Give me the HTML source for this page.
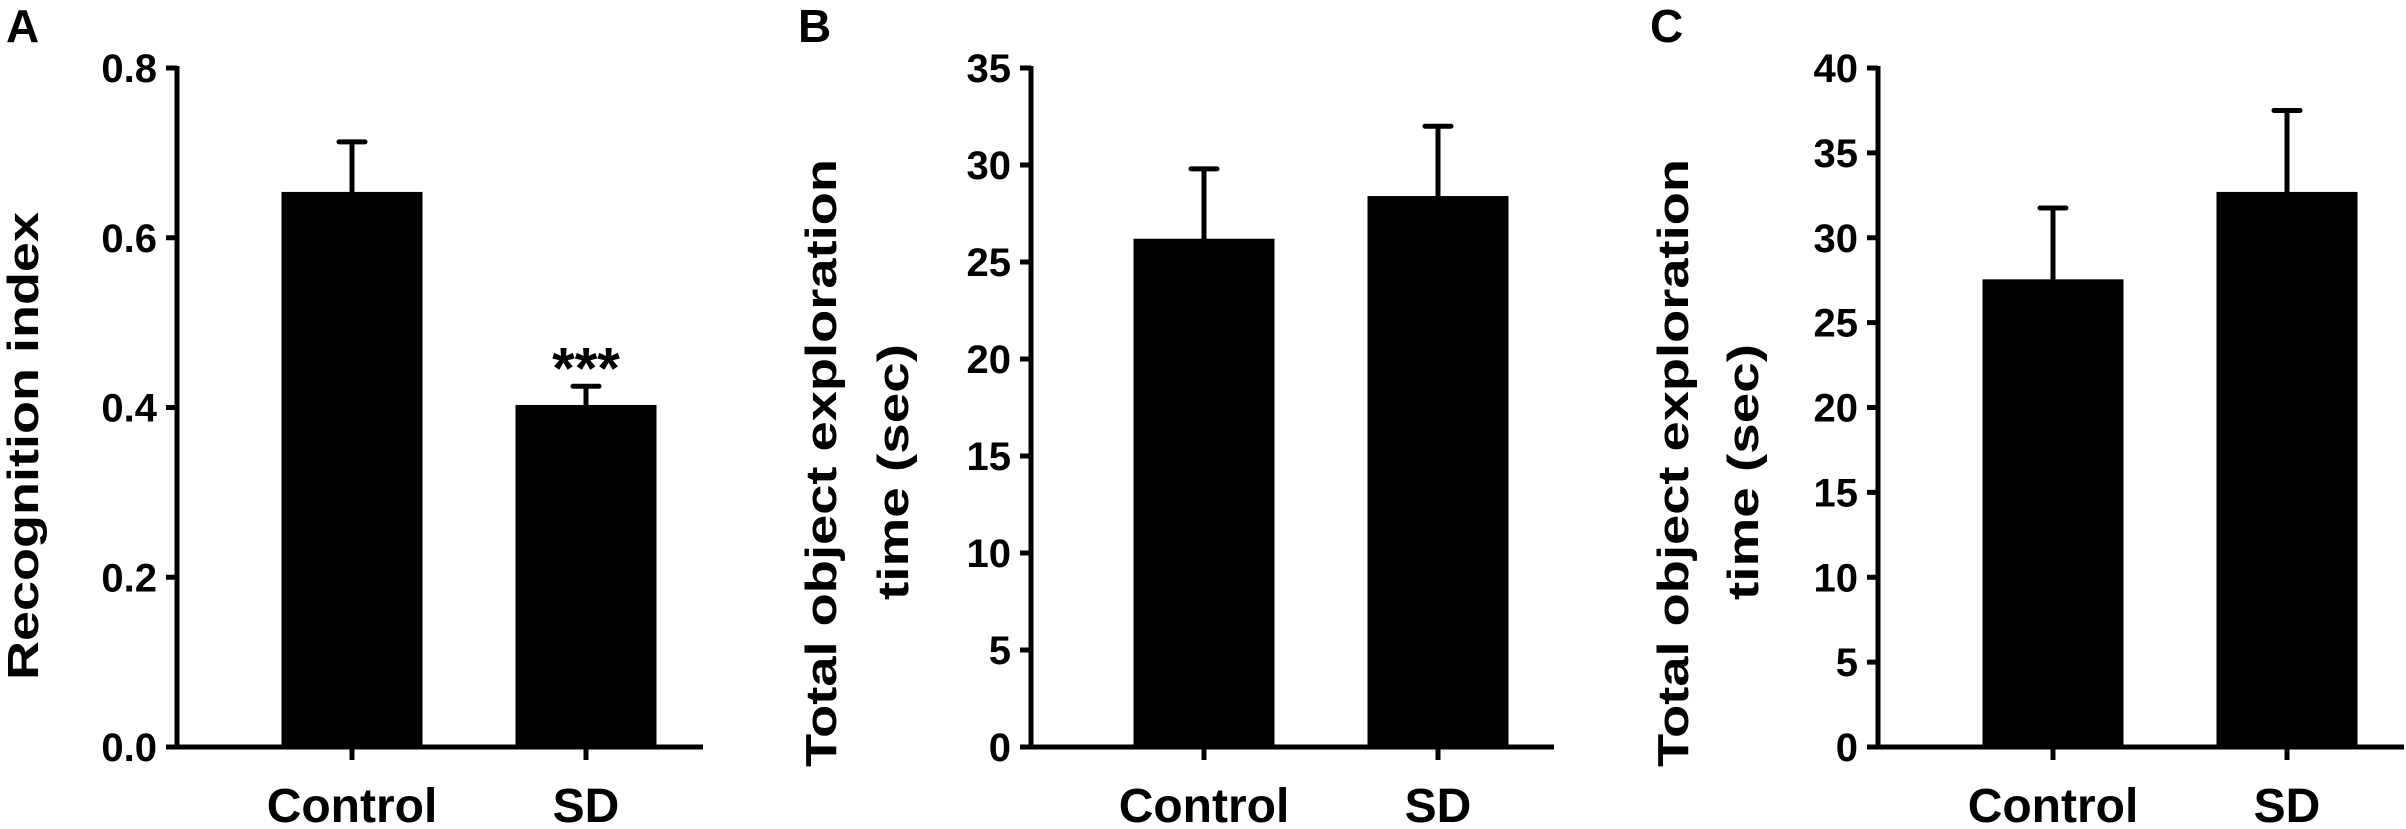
<!DOCTYPE html>
<html><head><meta charset="utf-8"><style>
html,body{margin:0;padding:0;background:#fff;}
svg{display:block;font-family:"Liberation Sans",sans-serif;font-weight:bold;}
</style></head><body>
<svg id="fig" width="2406" height="829" viewBox="0 0 2406 829" xmlns="http://www.w3.org/2000/svg"></svg>
<script>
const categories = ["Control", "SD"];
const valuesA = [0.654, 0.403];
const errorsA = [0.059, 0.022];
const valuesB = [26.2, 28.4];
const errorsB = [3.6, 3.6];
const valuesC = [27.55, 32.7];
const errorsC = [4.2, 4.8];
const ticksA = ["0.0", "0.2", "0.4", "0.6", "0.8"];
const ticksB = ["0", "5", "10", "15", "20", "25", "30", "35"];
const ticksC = ["0", "5", "10", "15", "20", "25", "30", "35", "40"];
const sigA = ["", "***"];

const NS = "http://www.w3.org/2000/svg";
const svg = document.getElementById('fig');
function mk(tag, attrs, parent){
  const e = document.createElementNS(NS, tag);
  for (const k in attrs) e.setAttribute(k, attrs[k]);
  (parent||svg).appendChild(e);
  return e;
}
const Y0 = 747, YTOP = 68;

function panel(p){
  const g = mk('g', {});
  
  
  const yMax = parseFloat(p.ticks[p.ticks.length-1]);
  const ys = v => Y0 - (v / yMax) * (Y0 - YTOP);
  const xAt = i => p.tick0 + i * 234;
  p.values.forEach((v, i) => {
    const cx = xAt(i);
    const r = mk('rect', {x: cx - 70.5, y: ys(v), width: 141, height: Y0 - ys(v), fill: '#000'}, g);
    
    
    const top = ys(v + p.errors[i]);
    const el = mk('path', {d: `M${cx} ${ys(v)} V${top} M${cx-13} ${top} H${cx+13}`, stroke: '#000', 'stroke-width': 5, 'stroke-linecap': 'round', fill: 'none'}, g);
    
    
    if (p.sig && p.sig[i]) {
      const s = mk('text', {x: cx, y: top + 2, 'text-anchor': 'middle', 'font-size': 58}, g);
      
      
      s.textContent = p.sig[i];
    }
    const t = mk('path', {d: `M${cx} ${Y0} V${Y0+13}`, stroke: '#000', 'stroke-width': 5}, g);
    
    
    const lb = mk('text', {x: cx, y: 822, 'text-anchor': 'middle', 'font-size': 48}, g);
    
    
    lb.textContent = categories[i];
  });
  const ax = mk('path', {d: `M${p.ax} ${YTOP-2} V${Y0} M${p.ax-10} ${Y0} H${p.xEnd}`, stroke: '#000', 'stroke-width': 5, fill: 'none'}, g);
  
  
  p.ticks.forEach(tk => {
    const y = ys(parseFloat(tk));
    const t = mk('path', {d: `M${p.ax-11} ${y} H${p.ax}`, stroke: '#000', 'stroke-width': 5}, g);
    
    
    const lb = mk('text', {x: p.ax - 20, y: y + 14, 'text-anchor': 'end', 'font-size': 40}, g);
    
    
    lb.textContent = tk;
  });
  p.title.forEach((line, k) => {
    const [x, cy, len] = p.titlePos[k];
    const tt = mk('text', {x: 0, y: 0, 'text-anchor': 'middle', 'font-size': 44, transform: `translate(${x},${cy}) rotate(-90)`, textLength: len, lengthAdjust: 'spacingAndGlyphs'}, g);
    
    
    tt.textContent = line;
  });
  const pl = mk('text', {x: p.lx, y: 42, 'font-size': 46}, g);
  
  
  pl.textContent = p.id;
}

panel({id:'A', values: valuesA, errors: errorsA, ticks: ticksA, sig: sigA, ax: 177, xEnd: 703, tick0: 352,
  title: ["Recognition index"], titlePos: [[38, 446, 468]], lx: 6});
panel({id:'B', values: valuesB, errors: errorsB, ticks: ticksB, ax: 1031, xEnd: 1554, tick0: 1204,
  title: ["Total object exploration", "time (sec)"], titlePos: [[836, 463, 608], [908, 472, 256]], lx: 798});
panel({id:'C', values: valuesC, errors: errorsC, ticks: ticksC, ax: 1878, xEnd: 2404, tick0: 2053,
  title: ["Total object exploration", "time (sec)"], titlePos: [[1688, 463, 608], [1758, 472, 256]], lx: 1650});
</script>
</body></html>
